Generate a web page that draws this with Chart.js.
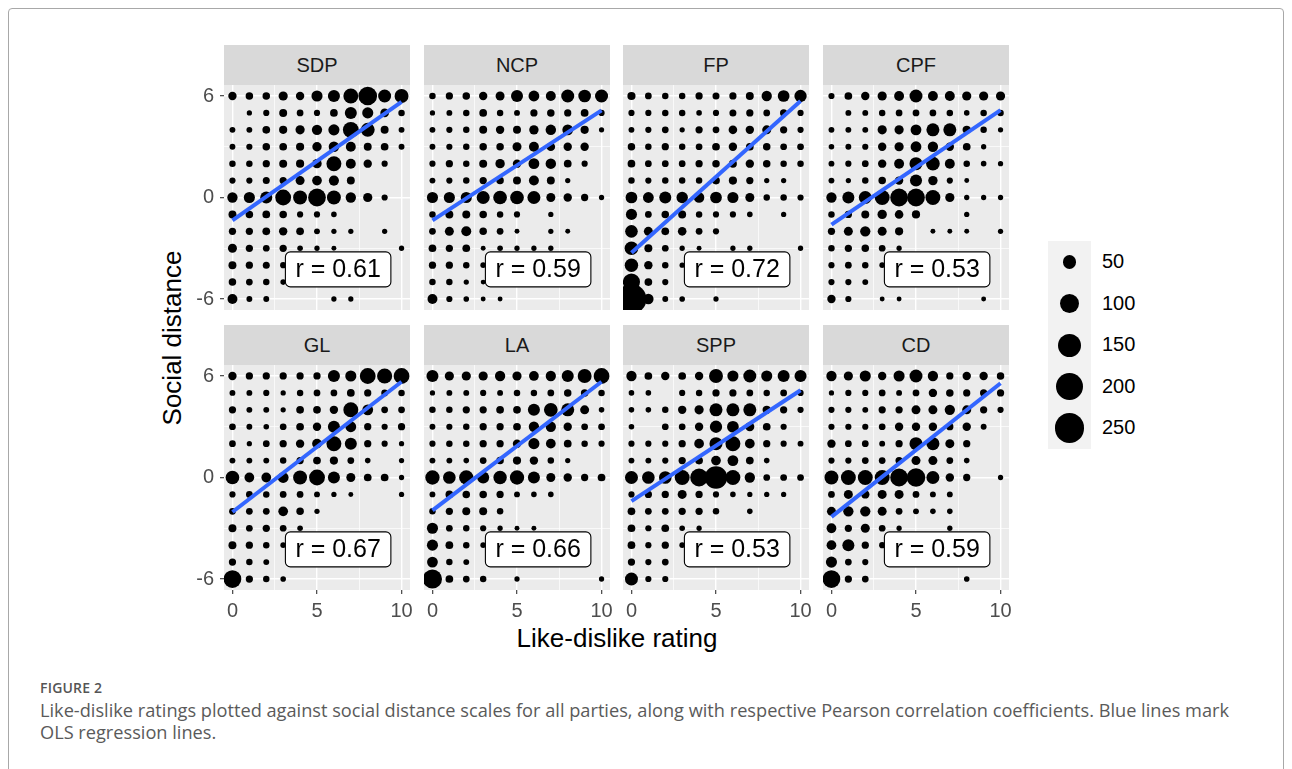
<!DOCTYPE html>
<html>
<head>
<meta charset="utf-8">
<script src="https://cdn.jsdelivr.net/npm/chart.js@4.4.0/dist/chart.umd.min.js"></script>
<style>
  body { margin: 0; background: #fff; width: 1292px; height: 769px; overflow: hidden; position: relative;
         font-family: "Liberation Sans", Arial, sans-serif; }
  .frame { position: absolute; left: 8px; top: 8px; width: 1274px; height: 800px; border: 1px solid #a8a8a8; border-radius: 4px; }
  .strip { position: absolute; width: 186px; height: 40px; line-height: 40px; background: #d9d9d9;
           color: #1a1a1a; font-size: 20px; text-align: center; }
  canvas { position: absolute; }
  .ytitle { position: absolute; left: 172px; top: 338px; transform: translate(-50%, -50%) rotate(-90deg);
            font-size: 26px; white-space: nowrap; color: #000; }
  .xtitle { position: absolute; left: 617px; top: 638px; transform: translate(-50%, -50%);
            font-size: 26px; white-space: nowrap; color: #000; }
  .legend { position: absolute; left: 1048px; top: 241px; width: 43px; height: 208px; background: #f2f2f2; }
  .dot { position: absolute; background: #000; border-radius: 50%; }
  .lab { position: absolute; font-size: 20px; color: #000; }
  .fig { position: absolute; left: 40px; top: 678px; font-family: "Open Sans", sans-serif; font-size: 14px;
         font-weight: 600; color: #555; letter-spacing: 0.2px; }
  .cap { position: absolute; left: 40px; top: 699px; font-family: "Open Sans", sans-serif; font-size: 18.2px;
         line-height: 22px; color: #5a5a5a; white-space: nowrap; }
</style>
</head>
<body>
<div class="frame"></div>
<div class="ytitle">Social distance</div>
<div class="xtitle">Like-dislike rating</div>
<div class="legend" id="legend"></div>
<div class="fig">FIGURE 2</div>
<div class="cap">Like-dislike ratings plotted against social distance scales for all parties, along with respective Pearson correlation coefficients. Blue lines mark<br>OLS regression lines.</div>
<script>
// counts per cell: rows are social distance 6 .. -6, columns are rating 0 .. 10
const SDP = [
  [17,13,13,21,17,32,38,60,95,45,52],
  [0,5,8,15,10,8,14,38,32,18,9],
  [7,7,14,16,21,27,32,68,52,15,7],
  [7,8,13,14,16,22,28,25,15,14,7],
  [9,9,12,15,16,22,60,25,17,8,0],
  [8,8,11,12,20,24,26,15,0,0,0],
  [27,32,38,68,52,86,52,27,21,8,0],
  [15,13,14,13,8,8,6,0,0,0,0],
  [12,12,14,17,14,7,5,5,0,5,0],
  [20,12,10,12,6,5,4,0,0,0,5],
  [15,12,11,8,5,4,0,0,0,0,0],
  [13,10,9,6,4,0,0,0,0,0,0],
  [25,7,7,0,0,0,5,5,0,0,0]
];
const NCP = [
  [9,12,13,17,20,38,30,25,45,42,45],
  [5,7,9,14,9,7,12,13,12,14,8],
  [7,8,9,15,17,15,22,28,30,16,5],
  [7,8,9,13,13,20,25,18,17,17,0],
  [8,12,9,15,22,17,30,28,14,8,0],
  [7,8,9,12,13,15,25,15,5,0,0],
  [32,32,32,45,50,50,45,20,17,12,5],
  [9,15,15,13,9,8,0,5,0,0,0],
  [10,20,25,13,10,4,0,5,4,0,0],
  [14,12,14,4,6,5,5,5,0,0,0],
  [12,12,9,6,4,0,0,0,0,0,0],
  [9,9,5,4,0,0,0,0,0,0,0],
  [25,8,6,4,4,0,0,0,0,0,0]
];
const FP = [
  [16,10,9,9,12,11,12,15,27,36,40],
  [8,8,9,9,6,8,11,12,10,12,8],
  [7,8,10,5,12,10,18,17,20,12,8],
  [13,9,12,9,10,14,17,14,13,10,10],
  [14,10,10,10,12,13,15,17,13,9,9],
  [9,8,9,9,9,14,16,12,5,5,0],
  [36,30,38,34,28,36,32,20,9,9,8],
  [32,10,13,15,9,8,8,6,0,5,0],
  [42,20,14,18,10,8,0,0,0,0,0],
  [50,15,10,5,4,0,5,5,0,0,5],
  [48,17,9,5,0,0,0,0,0,0,0],
  [80,14,8,0,0,0,0,0,0,0,0],
  [250,28,7,6,0,5,0,0,0,0,0]
];
const CPF = [
  [8,14,17,21,25,45,25,25,21,21,21],
  [0,7,7,9,10,10,10,9,6,9,9],
  [7,7,7,21,21,30,45,45,17,9,5],
  [6,7,8,17,21,30,27,17,14,5,0],
  [7,8,10,17,25,45,50,25,9,6,5],
  [7,5,9,13,17,38,22,8,4,0,0],
  [27,38,45,60,86,86,60,21,5,5,5],
  [9,12,15,22,18,16,0,0,5,0,0],
  [12,20,27,20,16,0,4,4,4,0,5],
  [9,12,13,10,5,0,0,0,0,0,0],
  [8,10,9,6,0,0,0,0,0,0,0],
  [8,8,7,0,0,0,0,0,0,0,0],
  [17,8,0,4,4,0,0,0,0,4,0]
];
const GL = [
  [17,12,12,12,12,12,38,32,68,62,68],
  [7,7,8,5,9,10,10,14,12,10,9],
  [12,7,7,5,14,14,17,60,30,10,10],
  [10,7,6,10,14,17,38,30,12,8,12],
  [10,5,10,12,17,24,60,38,12,8,5],
  [7,7,7,9,12,14,16,10,6,0,5],
  [50,24,24,30,52,68,38,20,14,14,5],
  [8,10,9,10,10,7,5,4,0,0,5],
  [10,10,10,24,13,5,0,0,0,0,0],
  [15,10,12,10,6,0,0,0,0,0,0],
  [15,12,9,6,0,0,0,0,0,0,0],
  [12,9,7,0,0,0,0,0,0,0,0],
  [86,12,9,6,0,0,0,0,0,0,0]
];
const LA = [
  [38,21,21,21,27,21,24,27,38,52,68],
  [5,7,7,8,7,9,9,10,13,13,9],
  [9,9,12,12,14,14,38,50,45,20,6],
  [7,8,9,12,12,14,27,27,17,10,10],
  [8,9,9,12,12,17,32,24,14,9,8],
  [7,7,6,10,13,16,17,9,5,0,0],
  [55,42,55,38,48,55,38,20,17,12,14],
  [7,14,13,13,12,7,6,6,0,0,0],
  [9,12,15,15,9,0,0,0,0,0,0],
  [32,10,9,8,5,4,4,0,0,0,0],
  [32,14,9,6,0,0,0,0,0,0,0],
  [30,9,7,0,0,0,0,0,0,0,0],
  [100,14,10,9,0,5,0,0,0,0,5]
];
const SPP = [
  [27,14,17,14,17,52,32,45,32,38,38],
  [6,6,0,8,9,12,12,10,9,10,8],
  [6,6,9,17,21,45,45,45,17,12,8],
  [6,0,10,10,17,40,36,20,14,8,0],
  [8,8,8,12,24,45,60,24,12,8,7],
  [7,7,8,12,14,24,30,14,6,0,0],
  [45,42,42,60,86,140,60,27,10,10,10],
  [8,12,12,20,12,8,6,5,5,5,0],
  [14,10,10,12,12,9,0,6,0,0,0],
  [14,8,14,6,5,0,0,0,0,0,0],
  [14,8,12,6,0,0,0,0,0,0,0],
  [12,8,10,0,0,0,0,0,0,0,0],
  [45,8,8,0,0,0,0,0,0,0,0]
];
const CD = [
  [27,21,32,17,32,45,27,12,17,17,13],
  [5,8,8,10,7,10,17,13,12,12,12],
  [8,8,7,12,12,20,20,27,20,12,8],
  [8,8,8,10,17,17,17,12,17,7,0],
  [17,10,10,7,12,45,45,20,12,0,0],
  [8,8,10,10,12,20,20,10,6,0,0],
  [52,60,60,60,86,95,45,17,12,0,5],
  [10,20,17,20,20,10,7,7,0,0,0],
  [20,27,27,20,10,7,6,6,0,0,0],
  [24,12,20,10,5,0,0,5,0,0,0],
  [24,38,12,8,0,0,0,0,0,0,0],
  [32,10,8,0,0,0,0,0,0,0,0],
  [86,12,10,0,0,0,0,0,6,0,0]
];

const parties = ['SDP', 'NCP', 'FP', 'CPF', 'GL', 'LA', 'SPP', 'CD'];
const partyCounts = [SDP, NCP, FP, CPF, GL, LA, SPP, CD];
const ratings = [0, 1, 2, 3, 4, 5, 6, 7, 8, 9, 10];
const distances = [6, 5, 4, 3, 2, 1, 0, -1, -2, -3, -4, -5, -6];
const intercepts = [-1.35, -1.35, -3.26, -1.6, -2.04, -1.94, -1.4, -2.33];
const slopes = [0.70, 0.65, 0.896, 0.676, 0.77, 0.76, 0.656, 0.79];
const rValues = ['0.61', '0.59', '0.72', '0.53', '0.67', '0.66', '0.53', '0.59'];
const xTicks = [0, 2.5, 5, 7.5, 10];
const xMajor = [0, 5, 10];
const yTicks = [-6, -3, 0, 3, 6];
const yMajor = [-6, 0, 6];
const legendCounts = [50, 100, 150, 200, 250];
const labelAt = [6.25, -4.25];

const FONT = '"Liberation Sans", Arial, sans-serif';
const PLOT_W = 186, PLOT_H = 225, AX_W = 40, AX_H = 34, PAD_R = 14;
const colLeft = [224, 424, 623, 823];
const rowTop = [85, 365];
// area grows linearly with count, like ggplot's size scale
const sizeOf = n => 0.5 * Math.sqrt(10 + 3.55 * n);

const panelBg = {
  id: 'panelBg',
  beforeDraw(chart) {
    const { ctx, chartArea: a } = chart;
    ctx.save();
    ctx.fillStyle = '#ebebeb';
    ctx.fillRect(a.left, a.top, a.right - a.left, a.bottom - a.top);
    ctx.restore();
  }
};

const rLabel = {
  id: 'rLabel',
  afterDatasetsDraw(chart, args, opts) {
    const { ctx, scales: { x, y } } = chart;
    const cx = x.getPixelForValue(labelAt[0]);
    const cy = y.getPixelForValue(labelAt[1]);
    const text = 'r = ' + opts.text;
    ctx.save();
    ctx.font = '25px ' + FONT;
    const w = ctx.measureText(text).width + 20, h = 35;
    ctx.beginPath();
    ctx.roundRect(cx - w / 2, cy - h / 2, w, h, 5);
    ctx.fillStyle = '#fff';
    ctx.fill();
    ctx.lineWidth = 1.1;
    ctx.strokeStyle = '#000';
    ctx.stroke();
    ctx.fillStyle = '#000';
    ctx.textAlign = 'center';
    ctx.textBaseline = 'middle';
    ctx.fillText(text, cx, cy + 1);
    ctx.restore();
  }
};

parties.forEach((name, i) => {
  const col = i % 4, row = Math.floor(i / 4);
  const showX = row === 1, showY = col === 0;

  const strip = document.createElement('div');
  strip.className = 'strip';
  strip.style.left = colLeft[col] + 'px';
  strip.style.top = (rowTop[row] - 40) + 'px';
  strip.textContent = name;
  document.body.appendChild(strip);

  const canvas = document.createElement('canvas');
  canvas.width = AX_W + PLOT_W + PAD_R;
  canvas.height = PLOT_H + AX_H;
  canvas.style.left = (colLeft[col] - AX_W) + 'px';
  canvas.style.top = rowTop[row] + 'px';
  document.body.appendChild(canvas);

  const points = [];
  partyCounts[i].forEach((line, r) => {
    line.forEach((n, c) => {
      if (n > 0) points.push({ x: ratings[c], y: distances[r], r: sizeOf(n) });
    });
  });
  const fit = [0, 10].map(v => ({ x: v, y: intercepts[i] + slopes[i] * v }));

  new Chart(canvas, {
    type: 'bubble',
    data: {
      datasets: [
        { type: 'line', data: fit, borderColor: '#3366ff', borderWidth: 4, pointRadius: 0,
          fill: false, clip: 0, order: 0 },
        { data: points, backgroundColor: '#000', borderWidth: 0, clip: 0, order: 1 }
      ]
    },
    options: {
      responsive: false,
      animation: false,
      events: [],
      layout: { autoPadding: false, padding: { left: 0, top: 0, bottom: 0, right: PAD_R } },
      plugins: { legend: { display: false }, tooltip: { enabled: false }, rLabel: { text: rValues[i] } },
      scales: {
        x: {
          type: 'linear', min: -0.5, max: 10.5,
          afterBuildTicks: ax => { ax.ticks = xTicks.map(v => ({ value: v })); },
          afterFit: ax => { ax.height = AX_H; ax.paddingLeft = 0; ax.paddingRight = 0; },
          border: { display: false },
          grid: {
            color: '#fff',
            lineWidth: c => xMajor.includes(c.tick.value) ? 1.4 : 0.7,
            drawTicks: showX, tickLength: 4, tickWidth: 1.1,
            tickColor: c => xMajor.includes(c.tick.value) ? '#333' : 'rgba(0,0,0,0)'
          },
          ticks: {
            display: showX, autoSkip: false, maxRotation: 0, padding: 5, color: '#4d4d4d',
            font: { family: FONT, size: 20 },
            callback: v => xMajor.includes(v) ? String(v) : ''
          }
        },
        y: {
          type: 'linear', min: -6.65, max: 6.65,
          afterBuildTicks: ax => { ax.ticks = yTicks.map(v => ({ value: v })); },
          afterFit: ax => { ax.width = AX_W; ax.paddingTop = 0; ax.paddingBottom = 0; },
          border: { display: false },
          grid: {
            color: '#fff',
            lineWidth: c => yMajor.includes(c.tick.value) ? 1.4 : 0.7,
            drawTicks: showY, tickLength: 4, tickWidth: 1.1,
            tickColor: c => yMajor.includes(c.tick.value) ? '#333' : 'rgba(0,0,0,0)'
          },
          ticks: {
            display: showY, autoSkip: false, padding: 6, color: '#4d4d4d',
            font: { family: FONT, size: 20 },
            callback: v => yMajor.includes(v) ? String(v) : ''
          }
        }
      }
    },
    plugins: [panelBg, rLabel]
  });
});

// size legend
const legend = document.getElementById('legend');
legendCounts.forEach((n, k) => {
  const cy = 21 + k * 41.6, r = sizeOf(n);
  const d = document.createElement('div');
  d.className = 'dot';
  d.style.width = d.style.height = (2 * r) + 'px';
  d.style.left = (21.5 - r) + 'px';
  d.style.top = (cy - r) + 'px';
  legend.appendChild(d);
  const t = document.createElement('div');
  t.className = 'lab';
  t.style.left = (1102 - 1048) + 'px';
  t.style.top = (cy - 12) + 'px';
  t.textContent = n;
  legend.appendChild(t);
});
</script>
</body>
</html>
